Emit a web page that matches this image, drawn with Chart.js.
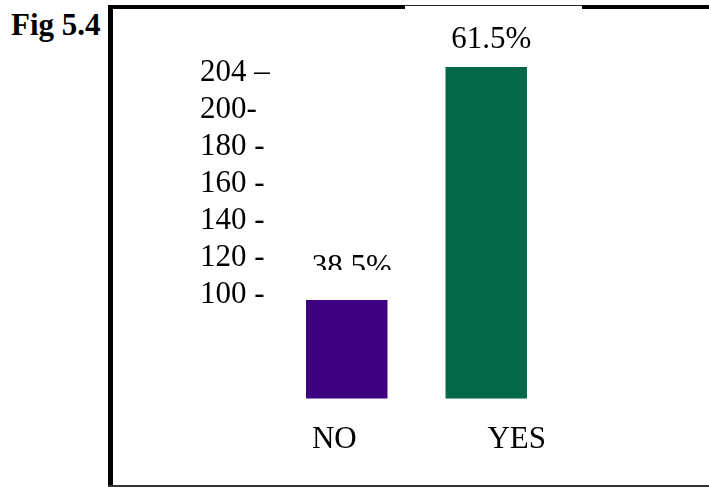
<!DOCTYPE html>
<html>
<head>
<meta charset="utf-8">
<script src="https://cdn.jsdelivr.net/npm/chart.js@4"></script>
<style>
  html, body { margin: 0; padding: 0; background: #fff; }
  #wrap { position: relative; width: 709px; height: 487px; overflow: hidden; }
  #figTitle { position: absolute; left: 11px; top: 9px; font: bold 31px/31px "Liberation Serif", "Times New Roman", serif; color: #000; }
  .rule { position: absolute; background: #000; }
  canvas { position: absolute; left: 0; top: 0; }
</style>
</head>
<body>
<div id="wrap">
  <div id="figTitle">Fig 5.4</div>
  <!-- frame round the chart -->
  <div class="rule" style="left:108px; top:5px; width:601px; height:1px; background:#222"></div>
  <div class="rule" style="left:108px; top:5px; width:297px; height:4px"></div>
  <div class="rule" style="left:582px; top:5px; width:127px; height:4px"></div>
  <div class="rule" style="left:108px; top:5px; width:5px; height:482px"></div>
  <div class="rule" style="left:108px; top:485px; width:601px; height:2px; background:#333"></div>
  <canvas id="mainChart" width="709" height="487"></canvas>
</div>
<script>
// Fig 5.4 - share of NO / YES answers

const categories = ['NO', 'YES'];
const shares = [38.5, 61.5];
const barColors = ['#3c0080', '#03674a'];
const rowLabels = ['204 –', '200-', '180 -', '160 -', '140 -', '120 -', '100 -'];

const serif = '"Liberation Serif", "Times New Roman", serif';

// percentage text above each bar
const barLabels = {
  id: 'barLabels',
  afterDatasetsDraw(chart, args, opts) {
    const ctx = chart.ctx;
    const meta = chart.getDatasetMeta(0);
    ctx.save();
    ctx.font = '31px ' + serif;
    ctx.fillStyle = '#000';
    ctx.textAlign = 'center';
    ctx.textBaseline = 'alphabetic';
    meta.data.forEach((bar, i) => {
      const x = bar.x + opts.dx;
      const y = bar.y - opts.dy[i];
      ctx.save();
      if (opts.cut[i] != null) {
        ctx.beginPath();
        ctx.rect(0, 0, chart.width, y - opts.cut[i]);
        ctx.clip();
      }
      ctx.fillText(shares[i] + '%', x, y);
      ctx.restore();
    });
    ctx.restore();
  }
};

new Chart(document.getElementById('mainChart'), {
  type: 'bar',
  data: {
    labels: categories,
    datasets: [{
      data: shares,
      backgroundColor: barColors,
      borderWidth: 0,
      barPercentage: 0.584,
      categoryPercentage: 1
    }]
  },
  options: {
    responsive: false,
    animation: false,
    layout: { padding: { left: 200, right: 153, top: 20, bottom: 0 } },
    plugins: {
      legend: { display: false },
      tooltip: { enabled: false },
      barLabels: { dx: 5, dy: [24, 19], cut: [6, null] }
    },
    scales: {
      x: { display: false },
      y: { display: false, min: 28.78, max: 66.14 },
      // row of left-hand labels
      rows: {
        type: 'linear',
        position: 'left',
        reverse: true,
        offset: false,
        min: -1.43,
        max: 8.8,
        grid: { display: false, drawTicks: false },
        border: { display: false },
        afterBuildTicks: s => { s.ticks = rowLabels.map((_, i) => ({ value: i })); },
        afterFit: s => { s.width = 77; },
        ticks: {
          autoSkip: false,
          crossAlign: 'far',
          padding: 0,
          color: '#000',
          font: { family: serif, size: 31 },
          callback: (v, i) => rowLabels[i]
        }
      },
      // category names under the bars
      names: {
        type: 'linear',
        position: 'bottom',
        offset: false,
        min: -0.314,
        max: 1.215,
        grid: { display: false, drawTicks: false, offset: false },
        border: { display: false },
        afterBuildTicks: s => { s.ticks = categories.map((_, i) => ({ value: i })); },
        afterFit: s => { s.height = 88.5; },
        ticks: {
          autoSkip: false,
          maxRotation: 0,
          padding: 23,
          color: '#000',
          font: { family: serif, size: 31 },
          callback: (v, i) => categories[i]
        }
      }
    }
  },
  plugins: [barLabels]
});
</script>
</body>
</html>
